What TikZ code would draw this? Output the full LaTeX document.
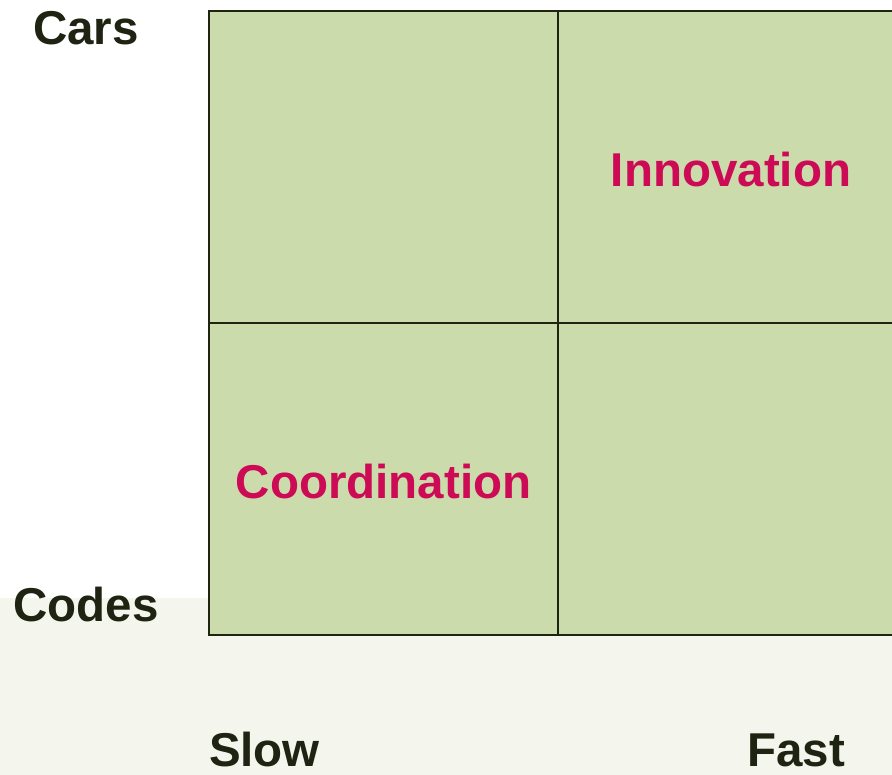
\documentclass[tikz,border=0pt]{standalone}
\usepackage{fontspec}
\setmainfont{Liberation Sans}
\usetikzlibrary{positioning}
\definecolor{cellgreen}{HTML}{CCDBAC}
\definecolor{paleground}{HTML}{F4F6EE}
\definecolor{inkdark}{HTML}{1F2412}
\definecolor{quadred}{HTML}{CC0A55}
\tikzset{
    cell/.style={draw=inkdark, line width=2.2pt, fill=cellgreen, minimum width=349pt, minimum height=312pt, inner sep=0pt, outer sep=0pt},
    axislbl/.style={font=\fontsize{47.5}{56}\selectfont\bfseries, text=inkdark, inner sep=0pt, anchor=base},
    quadlbl/.style={font=\fontsize{47.5}{56}\selectfont\bfseries, text=quadred, inner sep=0pt, anchor=base},
}

\begin{document}
\begin{tikzpicture}[x=1pt, y=-1pt]
        \useasboundingbox (0,0) rectangle (892,775);
        \clip (0,0) rectangle (892,775);
        \fill[white] (0,0) rectangle (892,598);
        \fill[paleground] (0,598) rectangle (892,775);
        % Quadrants
        \node[cell] (tl) at (383.5,167) {};
        \node[cell] (tr) at (732.5,167) {};
        \node[cell] (bl) at (383.5,479) {};
        \node[cell] (br) at (732.5,479) {};
        % Quadrant labels
        \node[quadlbl] (inno)  at (731,187) {Innovation};
        \node[quadlbl] (coord) at (383.5,498) {Coordination};
        % Axis labels
        \node[axislbl] (cars)  at (86,45)   {Cars};
        \node[axislbl] (codes) at (86,621)  {Codes};
        \node[axislbl] (slow)  at (264.5,766) {Slow};
        \node[axislbl] (fast)  at (796,766) {Fast};
    \end{tikzpicture}
\end{document}
